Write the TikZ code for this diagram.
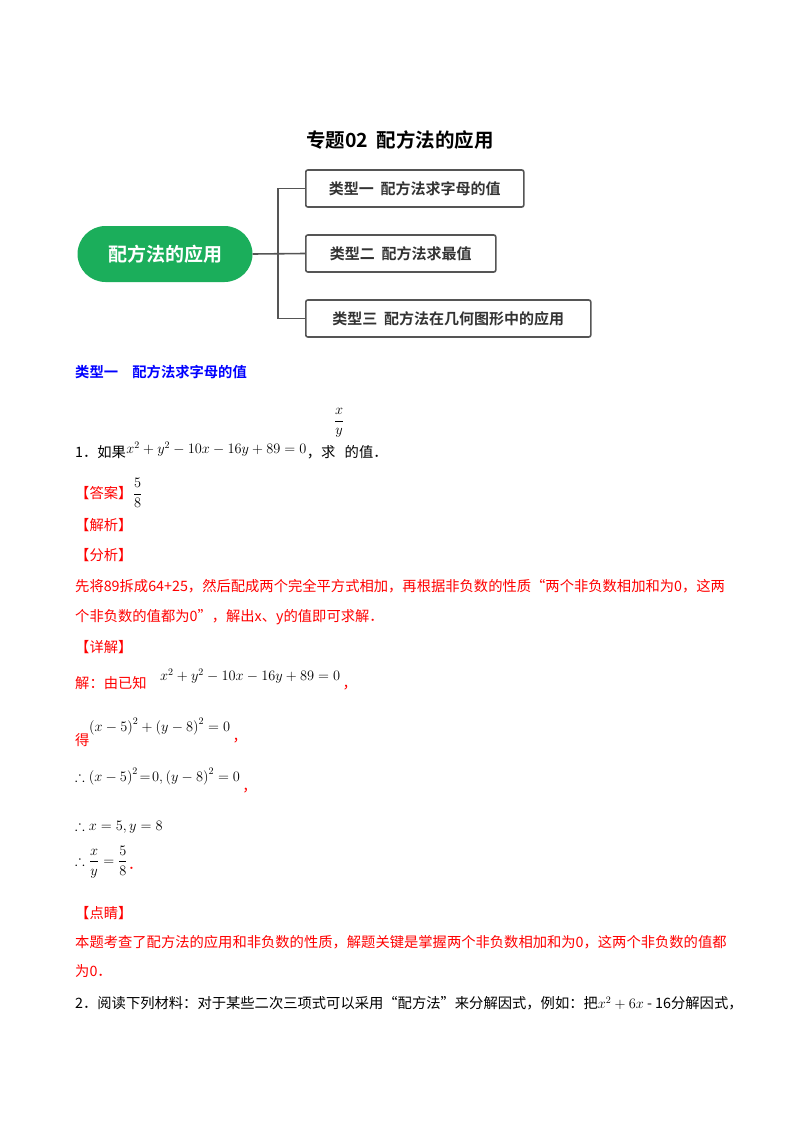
\documentclass[tikz,border=0pt]{standalone}
\usepackage{amsmath,amssymb}
\usepackage{fontspec}
\setmainfont{Liberation Serif}
\newfontfamily\cjk{Noto Sans CJK SC}
\newfontfamily\cjkb{Noto Sans CJK SC Bold}
\definecolor{rd}{HTML}{FF0000}
\definecolor{bl}{HTML}{0000FF}
\definecolor{gr}{HTML}{1BAE5B}
\definecolor{ln}{HTML}{555555}
\begin{document}
\begin{tikzpicture}[x=1pt,y=-1pt,
  txt/.style={anchor=west,inner sep=0pt,font=\cjk\fontsize{14.3}{16}\selectfont},
  rtxt/.style={txt,text=rd},
  mth/.style={anchor=west,inner sep=0pt,font=\fontsize{14.5}{16}\selectfont},
  cat/.style={draw=ln,line width=1.6pt,rounded corners=2pt,minimum height=37pt,anchor=west,inner xsep=14pt,font=\cjkb\fontsize{15}{17}\selectfont,text=black!80}]
\useasboundingbox (0,0) rectangle (800,1132);
\node[font=\cjkb\fontsize{19.5}{22}\selectfont] (title) at (400,140) {专题02\ \ 配方法的应用};
\node[fill=gr,rounded corners=28pt,minimum width=175pt,minimum height=56pt,text=white,font=\cjkb\fontsize{19}{21}\selectfont] (root) at (165,254) {配方法的应用};
\node[cat,minimum width=218pt] (c1) at (305,188.5) {类型一\ \ 配方法求字母的值};
\node[cat,minimum width=190pt] (c2) at (305,253.5) {类型二\ \ 配方法求最值};
\node[cat,minimum width=285pt] (c3) at (305,318.5) {类型三\ \ 配方法在几何图形中的应用};
\coordinate (j) at (278,254);
\draw[ln,line width=1.6pt] (root.east) -- (c2.west);
\draw[ln,line width=1.6pt] (c1.west) -| (j) |- (c3.west);
\node[txt,text=bl,font=\cjkb\fontsize{14.3}{16}\selectfont] (h1) at (75,372) {类型一\quad 配方法求字母的值};
\node[txt] (q1) at (75,452) {1．如果};
\node[mth] (q1m) at ([yshift=3pt]q1.east) {$x^2+y^2-10x-16y+89=0$};
\node[txt] (q1b) at (q1m.east |- q1) {，求};
\node[mth] (q1f) at ([xshift=-2pt,yshift=29pt]q1b.east) {$\dfrac{x}{y}$};
\node[txt] (q1c) at ([xshift=0pt]q1f.east |- q1b) {的值．};
\node[rtxt] (ans) at (75,493) {【答案】};
\node[mth] (ansv) at (ans.east) {$\dfrac{5}{8}$};
\node[rtxt] (jx) at (75,525) {【解析】};
\node[rtxt] (fx) at (75,555) {【分析】};
\node[rtxt] (p1) at (75,586) {先将89拆成64+25，然后配成两个完全平方式相加，再根据非负数的性质“两个非负数相加和为0，这两};
\node[rtxt] (p2) at (75,617) {个非负数的值都为0”，解出\textit{x}、\textit{y}的值即可求解．};
\node[rtxt] (xj) at (75,647) {【详解】};
\node[rtxt] (s1) at (75,683) {解：由已知};
\node[mth] (s1m) at (160,676) {$x^2+y^2-10x-16y+89=0$};
\node[rtxt] (s1c) at ([xshift=2pt,yshift=-12pt]s1m.east) {，};
\node[rtxt] (s2) at (75,740) {得};
\node[mth] (s2m) at (89,727) {$\left(x-5\right)^2+\left(y-8\right)^2=0$};
\node[rtxt] (s2c) at ([xshift=2pt,yshift=-14pt]s2m.east) {，};
\node[mth] (s3) at (75,777) {$\therefore\left(x-5\right)^2\!=\!0,\left(y-8\right)^2=0$};
\node[rtxt] (s3c) at ([xshift=2pt,yshift=-14pt]s3.east) {，};
\node[mth] (s4) at (75,827) {$\therefore x=5,y=8$};
\node[mth] (s5) at (75,862) {$\therefore\dfrac{x}{y}=\dfrac{5}{8}$};
\node[rtxt] (s5c) at ([yshift=-6pt]s5.east) {．};
\node[rtxt] (dj) at (75,913) {【点睛】};
\node[rtxt] (p3) at (75,942) {本题考查了配方法的应用和非负数的性质，解题关键是掌握两个非负数相加和为0，这两个非负数的值都};
\node[rtxt] (p4) at (75,971) {为0．};
\node[txt] (q2) at (75,1003) {2．阅读下列材料：对于某些二次三项式可以采用“配方法”来分解因式，例如：把$x^2+6x$ - 16分解因式，};
\end{tikzpicture}
\end{document}
